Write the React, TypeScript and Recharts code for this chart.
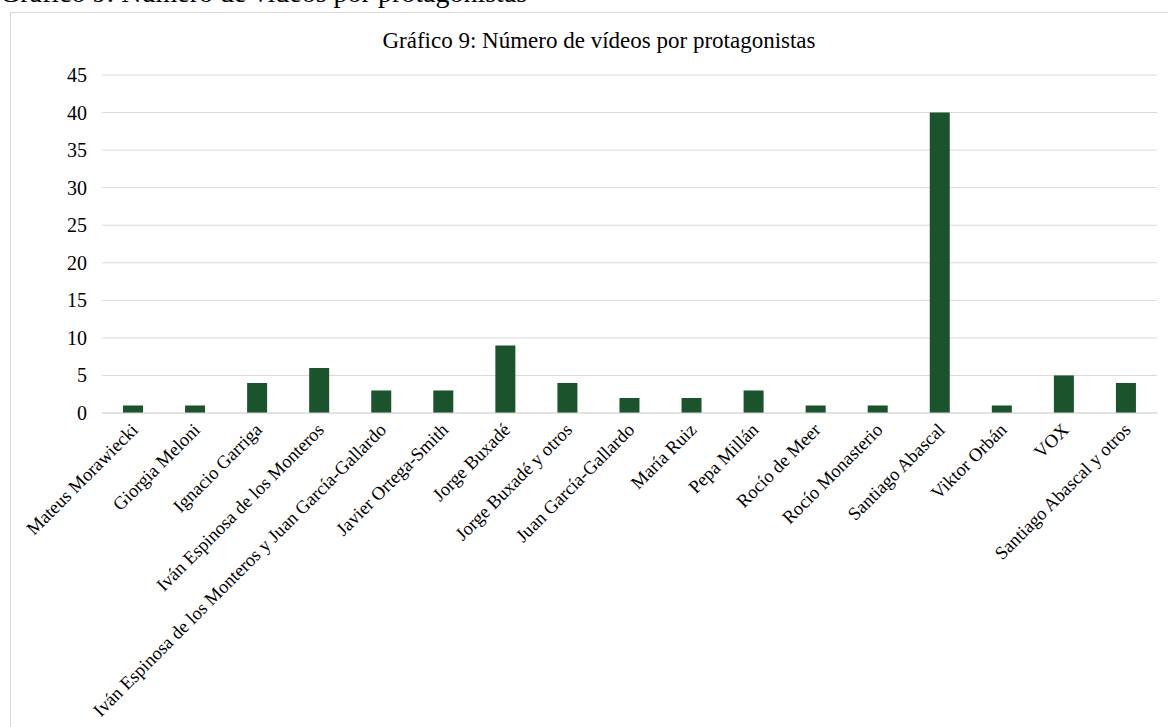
import React from "react";
import { BarChart, Bar, XAxis, YAxis, CartesianGrid } from "recharts";

const categories = [
  "Mateus Morawiecki",
  "Giorgia Meloni",
  "Ignacio Garriga",
  "Iván Espinosa de los Monteros",
  "Iván Espinosa de los Monteros y Juan García-Gallardo",
  "Javier Ortega-Smith",
  "Jorge Buxadé",
  "Jorge Buxadé y otros",
  "Juan García-Gallardo",
  "María Ruiz",
  "Pepa Millán",
  "Rocío de Meer",
  "Rocío Monasterio",
  "Santiago Abascal",
  "Viktor Orbán",
  "VOX",
  "Santiago Abascal y otros",
];
const videos = [1, 1, 4, 6, 3, 3, 9, 4, 2, 2, 3, 1, 1, 40, 1, 5, 4];
const yTicks = [0, 5, 10, 15, 20, 25, 30, 35, 40, 45];
const title = "Gráfico 9: Número de vídeos por protagonistas";
const caption = "Gráfico 9: Número de vídeos por protagonistas";

const data = categories.map((name, i) => ({ name, value: videos[i] }));

const FONT = "'Liberation Serif', 'Times New Roman', serif";

const XTick = (props: any) => {
  const { x, y, payload } = props;
  const tx = x + 6;
  const ty = y + 10;
  return (
    <text
      x={tx}
      y={ty}
      textAnchor="end"
      transform={`rotate(-45, ${tx}, ${ty})`}
      fontFamily={FONT}
      fontSize={18.5}
      fill="#000"
    >
      {payload.value}
    </text>
  );
};

const YTick = (props: any) => {
  const { y, payload } = props;
  return (
    <text
      x={87}
      y={y}
      dy={7}
      textAnchor="end"
      fontFamily={FONT}
      fontSize={20}
      fill="#000"
    >
      {payload.value}
    </text>
  );
};

export default function App() {
  return (
    <div
      style={{
        position: "absolute",
        left: 0,
        top: 0,
        width: 1168,
        height: 727,
        overflow: "hidden",
        background: "#fff",
        fontFamily: FONT,
      }}
    >
      <svg
        style={{ position: "absolute", left: 0, top: 0 }}
        width={1168}
        height={20}
      >
        <text x={0} y={2} fontFamily={FONT} fontSize={28} fill="#000">
          {caption}
        </text>
      </svg>
      <div
        style={{
          position: "absolute",
          left: 10,
          top: 12,
          width: 1300,
          height: 900,
          borderLeft: "1px solid #d9d9d9",
          borderTop: "1px solid #d9d9d9",
        }}
      />
      <svg
        style={{ position: "absolute", left: 0, top: 0 }}
        width={1168}
        height={60}
      >
        <text
          x={599}
          y={48}
          textAnchor="middle"
          fontFamily={FONT}
          fontSize={23}
          fill="#000"
        >
          {title}
        </text>
      </svg>
      <div style={{ position: "absolute", left: 0, top: 0 }}>
        <BarChart
          width={1168}
          height={727}
          data={data}
          margin={{ top: 75, right: 11, bottom: 0, left: 0 }}
        >
          <CartesianGrid
            vertical={false}
            stroke="#d9d9d9"
            strokeWidth={1}
          />
          <YAxis
            width={102}
            domain={[0, 45]}
            ticks={yTicks}
            interval={0}
            axisLine={false}
            tickLine={false}
            tick={<YTick />}
          />
          <XAxis
            dataKey="name"
            height={314}
            interval={0}
            axisLine={{ stroke: "#d9d9d9", strokeWidth: 1 }}
            tickLine={false}
            tick={<XTick />}
          />
          <Bar
            dataKey="value"
            fill="#1b532c"
            barSize={20}
            isAnimationActive={false}
          />
        </BarChart>
      </div>
    </div>
  );
}
